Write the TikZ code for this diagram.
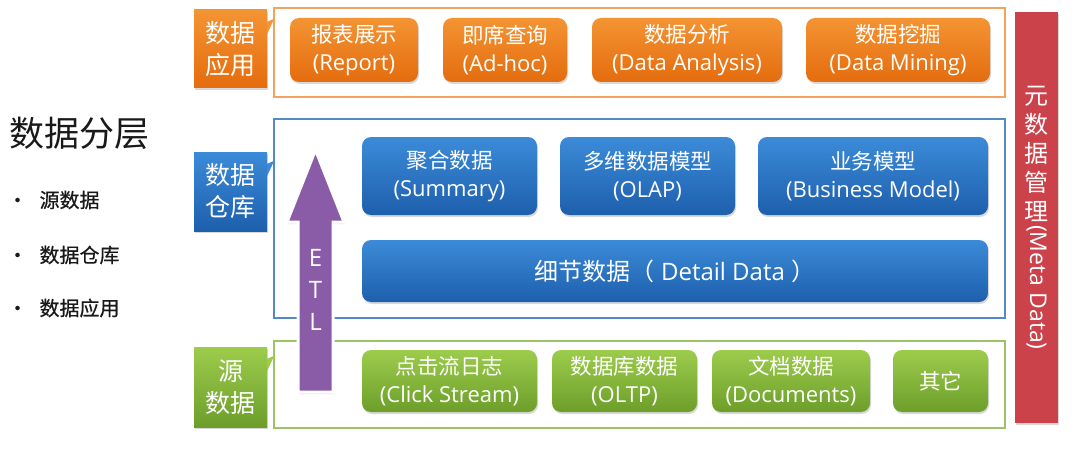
\documentclass[tikz,border=0pt]{standalone}
\usepackage{fontspec}
\setmainfont{Noto Sans CJK SC}
\newfontfamily\enfont{Open Sans}
\newfontfamily\listfont[FakeBold=0.6]{Noto Sans CJK SC}
\usepackage{graphicx}
\usetikzlibrary{positioning, shadows}
\definecolor{appTop}{HTML}{F49433}
\definecolor{appBot}{HTML}{E46C0E}
\definecolor{appLine}{HTML}{F2A35E}
\definecolor{dwTop}{HTML}{3C8BD8}
\definecolor{dwBot}{HTML}{1D5FAD}
\definecolor{dwLine}{HTML}{5489C6}
\definecolor{srcTop}{HTML}{9DCC4C}
\definecolor{srcBot}{HTML}{6C9E2A}
\definecolor{srcLine}{HTML}{9CC466}
\definecolor{metaRed}{HTML}{CC424A}
\definecolor{etlPurple}{HTML}{8A5CA8}
\newcommand{\en}[1]{{\enfont\fontsize{22}{28}\selectfont #1}}
\tikzstyle{btn}=[rounded corners=9pt, text=white, align=center, inner sep=0pt,
font=\fontsize{21.5}{28}\selectfont,
drop shadow={opacity=0.3,shadow xshift=1pt,shadow yshift=-2pt}]
\tikzstyle{appbtn}=[btn, top color=appTop, bottom color=appBot, minimum height=64pt]
\tikzstyle{dwbtn}=[btn, top color=dwTop, bottom color=dwBot]
\tikzstyle{srcbtn}=[btn, top color=srcTop, bottom color=srcBot, minimum height=62pt]
\tikzstyle{tag}=[minimum width=73pt, text=white, align=center, inner sep=0pt,
font=\fontsize{25}{32}\selectfont,
drop shadow={opacity=0.3,shadow xshift=1pt,shadow yshift=-2pt}]
\tikzstyle{frame}=[line width=1.6pt, minimum width=731pt, inner sep=0pt]
\tikzstyle{bullet}=[anchor=west, font=\listfont\fontsize{20}{22}\selectfont, text=black!90]

\begin{document}
\begin{tikzpicture}[x=1pt,y=-1pt]
\fill[white] (0,0) rectangle (1080,452);
\useasboundingbox (0,0) rectangle (1080,452);

% left list
\node[anchor=west, font=\fontsize{35}{38}\selectfont, text=black!90] (title) at (6,133) {数据分层};
\node[bullet] (b1) at (4,200) {•\hspace{12pt}源数据};
\node[bullet] (b2) at (4,255) {•\hspace{12pt}数据仓库};
\node[bullet] (b3) at (4,308) {•\hspace{12pt}数据应用};

% frames
\node[frame, draw=appLine, minimum height=89pt] (appframe) at (639.5,52.5) {};
\node[frame, draw=dwLine, minimum height=199pt] (dwframe) at (639.5,218.5) {};
\node[frame, draw=srcLine, minimum height=87pt] (srcframe) at (639.5,384.5) {};

% tags
\node[tag, top color=appTop, bottom color=appBot, minimum height=78pt] (apptag) at (230.5,49) {数据\\应用};
\node[tag, top color=dwTop, bottom color=dwBot, minimum height=79pt] (dwtag) at (230.5,191.5) {数据\\仓库};
\node[tag, top color=srcTop, bottom color=srcBot, minimum height=80pt] (srctag) at (230.5,387) {源\\数据};
\fill[appTop] ([yshift=-12pt]apptag.north east) -- ++(7,-3) -- ([yshift=-24pt]apptag.north east) -- cycle;
\fill[dwTop] ([yshift=-12pt]dwtag.north east) -- ++(7,-3) -- ([yshift=-24pt]dwtag.north east) -- cycle;
\fill[srcTop] ([yshift=-12pt]srctag.north east) -- ++(7,-3) -- ([yshift=-24pt]srctag.north east) -- cycle;

% application layer
\node[appbtn, minimum width=128pt] (report) at (354,50) {报表展示\\\en{(Report)}};
\node[appbtn, minimum width=124pt] (adhoc) at (505,50) {即席查询\\\en{(Ad-hoc)}};
\node[appbtn, minimum width=190pt] (analysis) at (687,50) {数据分析\\\en{(Data Analysis)}};
\node[appbtn, minimum width=184pt] (mining) at (898,50) {数据挖掘\\\en{(Data Mining)}};

% warehouse layer
\node[dwbtn, minimum width=175pt, minimum height=78pt] (summary) at (449.5,176) {聚合数据\\\en{(Summary)}};
\node[dwbtn, minimum width=175pt, minimum height=78pt] (olap) at (647.5,176) {多维数据模型\\\en{(OLAP)}};
\node[dwbtn, minimum width=230pt, minimum height=78pt] (business) at (873,176) {业务模型\\\en{(Business Model)}};
\node[dwbtn, minimum width=626pt, minimum height=62pt, font=\fontsize{24}{28}\selectfont] (detail) at (675,271)
  {细节数据（{\enfont\fontsize{24}{28}\selectfont\ Detail Data\ }）};

% source layer
\node[srcbtn, minimum width=175pt] (click) at (449.5,381) {点击流日志\\\en{(Click Stream)}};
\node[srcbtn, minimum width=145pt] (oltp) at (624.5,381) {数据库数据\\\en{(OLTP)}};
\node[srcbtn, minimum width=158pt] (docs) at (791,381) {文档数据\\\en{(Documents)}};
\node[srcbtn, minimum width=95pt] (other) at (940.5,381) {其它};

% ETL arrow
\draw[white, line width=3pt, fill=etlPurple, line join=miter,
  drop shadow={opacity=0.3,shadow xshift=1pt,shadow yshift=-2pt}]
  (315.5,150) -- (344,222) -- (333,222) -- (333,392) -- (298,392)
  -- (298,222) -- (287,222) -- cycle;
\node[text=white, align=center, font=\enfont\fontsize{24}{32}\selectfont] (etl) at (315.5,290) {E\\T\\L};

% metadata bar
\node[fill=metaRed, minimum width=43pt, minimum height=411pt, inner sep=0pt,
  drop shadow={opacity=0.3,shadow xshift=1pt,shadow yshift=-2pt}] (meta) at (1036.5,217.5) {};
\node[text=white, align=center, inner sep=0pt, font=\fontsize{24}{29}\selectfont] (metacn) at (1036.5,154)
  {元\\数\\据\\管\\理};
\node[text=white, rotate=-90, anchor=west, inner sep=0pt, font=\enfont\fontsize{23}{26}\selectfont] (metaen)
  at ([yshift=-3pt]metacn.south) {(Meta Data)};
\end{tikzpicture}
\end{document}
